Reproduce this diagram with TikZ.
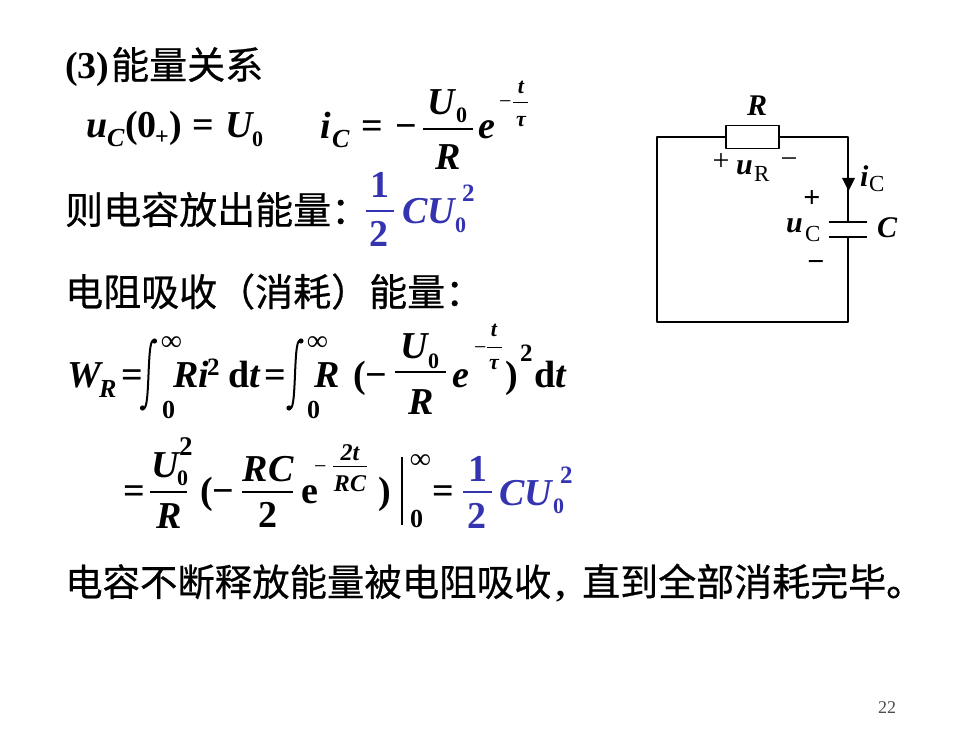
\documentclass[tikz,border=0pt]{standalone}
\usepackage{fontspec}
\setmainfont{Liberation Serif}
\newfontfamily\cjk[FakeBold=0.6]{Noto Sans CJK SC}
\definecolor{formblue}{RGB}{52,52,176}
\tikzset{
  mi/.style={anchor=base west,inner sep=0pt,font=\fontsize{#1}{#1}\selectfont\bfseries\itshape},
  mb/.style={anchor=base west,inner sep=0pt,font=\fontsize{#1}{#1}\selectfont\bfseries},
  mr/.style={anchor=base west,inner sep=0pt,font=\fontsize{#1}{#1}\selectfont},
  mc/.style={anchor=base,inner sep=0pt,font=\fontsize{#1}{#1}\selectfont\bfseries\itshape},
  nc/.style={anchor=base,inner sep=0pt,font=\fontsize{#1}{#1}\selectfont\bfseries},
  zh/.style={anchor=base west,inner sep=0pt,font=\fontsize{#1}{#1}\selectfont\cjk},
  wire/.style={line width=1.8pt},
  bar/.style={line width=1.3pt},
  intsign/.style={line width=2pt,line cap=round}
}
\newcommand{\intat}[3]{% x, top y, bottom y
  \draw[intsign] (#1+6,#2+3) .. controls (#1+2,#2) and (#1+1,#2+12) .. (#1,#2/2+#3/2)
    .. controls (#1-1,#3-12) and (#1-2,#3) .. (#1-6,#3-3);
  \fill (#1+6,#2+3) circle (2.6pt);
  \fill (#1-6,#3-3) circle (2.6pt);
}
\begin{document}
\begin{tikzpicture}[x=1pt,y=-1pt,line join=round]
	\useasboundingbox (0,0) rectangle (980,735);
	% title
	\node (num) at (65,79) [mb=38]{(3)};
	\node (title) at (111,79) [zh=38]{能量关系};
	% first row
	\node (uc) at (86,138) [mi=38]{u};
	\node (ucsub) at (107,147) [mi=26]{C};
	\node (ucarg) at (125,138) [mb=38]{(0};
	\node (ucplus) at (155,145) [mb=24]{+};
	\node (ucend) at (169,138) [mb=38]{)};
	\node (uceq) at (192,138) [mb=38]{=};
	\node (uzero) at (225,138) [mi=38]{U};
	\node (uzerosub) at (252,147) [mb=22]{0};
	\node (ic) at (320,139) [mi=38]{i};
	\node (icsub) at (332,148) [mi=26]{C};
	\node (iceq) at (361,139) [mb=38]{=};
	\node (icminus) at (395,139) [mb=38]{−};
	\node (icu) at (427,115) [mi=38]{U};
	\node (icusub) at (456,123) [mb=22]{0};
	\draw[bar] (423,129)--(473,129);
	\node (icr) at (448,170) [mc=38]{R};
	\node (ice) at (478,139) [mi=38]{e};
	\node (icexpm) at (499,109) [mr=22]{−};
	\node (icexpt) at (521,94) [mc=22]{t};
	\draw[line width=.7pt] (513,102)--(528,102);
	\node (icexptau) at (521,127) [mc=22]{τ};
	% second row
	\node (release) at (65,224) [zh=38]{则电容放出能量：};
	\node (relone) at (380,198) [nc=38,text=formblue]{1};
	\draw[bar,formblue] (366,211)--(394,211);
	\node (reltwo) at (379,247) [nc=38,text=formblue]{2};
	\node (relcu) at (402,224) [mi=38,text=formblue]{CU};
	\node (relsub) at (455,233) [mb=22,text=formblue]{0};
	\node (relsup) at (462,202) [mb=25,text=formblue]{2};
	% third row
	\node (absorb) at (65,306) [zh=38]{电阻吸收（消耗）能量：};
	% integral row
	\node (wr) at (67,387) [mi=38]{W};
	\node (wrsub) at (99,397) [mi=26]{R};
	\node (wreq) at (121,387) [mb=38]{=};
	\intat{148.5}{338}{411}
	\node (infa) at (161,351) [mb=29]{∞};
	\node (zeroa) at (162,418) [mb=26]{0};
	\node (ri) at (173,387) [mi=38]{Ri};
	\node (risup) at (207,375) [mb=25]{2};
	\node (dta) at (228,387) [mb=38]{d\textit{t}};
	\node (eqb) at (264,387) [mb=38]{=};
	\intat{295}{338}{411}
	\node (infb) at (307,351) [mb=29]{∞};
	\node (zerob) at (307,418) [mb=26]{0};
	\node (rint) at (314,387) [mi=38]{R};
	\node (open) at (353,387) [mb=38]{(−};
	\node (fu) at (400,358) [mi=38]{U};
	\node (fusub) at (428,368) [mb=22]{0};
	\draw[bar] (395,372)--(446,372);
	\node (fr) at (421,414) [mc=38]{R};
	\node (fe) at (452,387) [mi=38]{e};
	\node (fexpm) at (474,354) [mr=22]{−};
	\node (fexpt) at (494,337) [mc=22]{t};
	\draw[line width=.7pt] (487,347)--(502,347);
	\node (fexptau) at (494,370) [mc=22]{τ};
	\node (close) at (505,387) [mb=38]{)};
	\node (closesup) at (520,362) [mb=25]{2};
	\node (dtb) at (534,387) [mb=38]{d\textit{t}};
	% result row
	\node (eqc) at (123,503) [mb=38]{=};
	\node (gu) at (151,477) [mi=38]{U};
	\node (gusub) at (177,485) [mb=22]{0};
	\node (gusup) at (179,455) [mb=27]{2};
	\draw[bar] (150,492)--(187,492);
	\node (gr) at (169,528) [mc=38]{R};
	\node (gopen) at (200,503) [mb=38]{(−};
	\node (grc) at (268,481) [mc=38]{RC};
	\draw[bar] (242,492)--(293,492);
	\node (gtwo) at (268,527) [nc=38]{2};
	\node (ge) at (301,503) [mb=38]{e};
	\node (gexpm) at (314,473) [mr=22]{−};
	\node (gexpt) at (350,460) [mc=24]{2t};
	\draw[line width=.8pt] (333,466)--(367,466);
	\node (gexprc) at (350,491) [mc=24]{RC};
	\node (gclose) at (378,503) [mb=38]{)};
	\draw[line width=1.2pt] (402,457)--(402,525);
	\node (inf) at (410,468) [mb=29]{∞};
	\node (zeroc) at (410,527) [mb=26]{0};
	\node (eqd) at (432,503) [mb=38]{=};
	\node (hone) at (478,481) [nc=38,text=formblue]{1};
	\draw[bar,formblue] (463,492)--(492,492);
	\node (htwo) at (477,528) [nc=38,text=formblue]{2};
	\node (hcu) at (499,505) [mi=38,text=formblue]{CU};
	\node (hsub) at (553,513) [mb=22,text=formblue]{0};
	\node (hsup) at (560,483) [mb=25,text=formblue]{2};
	% last row
	\node (lasta) at (65,596) [zh=37.4]{电容不断释放能量被电阻吸收};
	\node (comma) at (556,596) [mb=36]{,};
	\node (lastb) at (582,596) [zh=38]{直到全部消耗完毕。};
	\node (page) at (887,713) [anchor=base,inner sep=0pt,font=\fontsize{18}{18}\selectfont,text=black!70]{22};
	% circuit
	\node (res) at (752.5,137) [draw,line width=1.8pt,minimum width=53pt,minimum height=23pt,inner sep=0pt]{};
	\coordinate (lt) at (657,137);
	\coordinate (rt) at (848,137);
	\coordinate (rbot) at (848,322);
	\coordinate (lbot) at (657,322);
	\coordinate (capa) at (848,222);
	\coordinate (capb) at (848,237);
	\draw[wire] (res.west)--(lt)--(lbot)--(rbot)--(capb);
	\draw[wire] (res.east)--(rt)--(capa);
	\draw[wire] ([xshift=-19pt]capa)--([xshift=19pt]capa);
	\draw[wire] ([xshift=-19pt]capb)--([xshift=19pt]capb);
	\fill (842,178)--(855,178)--(848.5,191)--cycle;
	\node (rlabel) at (757,116) [mc=30]{R};
	\node (urp) at (721,171) [anchor=base,inner sep=0pt,font=\fontsize{30}{30}\selectfont]{+};
	\node (ur) at (736,175) [mi=30]{u};
	\node (ursub) at (754,182) [mr=23]{R};
	\node (urm) at (789,169) [anchor=base,inner sep=0pt,font=\fontsize{30}{30}\selectfont]{−};
	\node (il) at (860,187) [mi=30]{i};
	\node (ilsub) at (869,192) [mr=23]{C};
	\node (ucp) at (812,208) [nc=30]{+};
	\node (ucl) at (786,233) [mi=30]{u};
	\node (uclsub) at (805,242) [mr=23]{C};
	\node (ucm) at (816,272) [nc=30]{−};
	\node (clabel) at (887,238) [mc=30]{C};
\end{tikzpicture}
\end{document}
